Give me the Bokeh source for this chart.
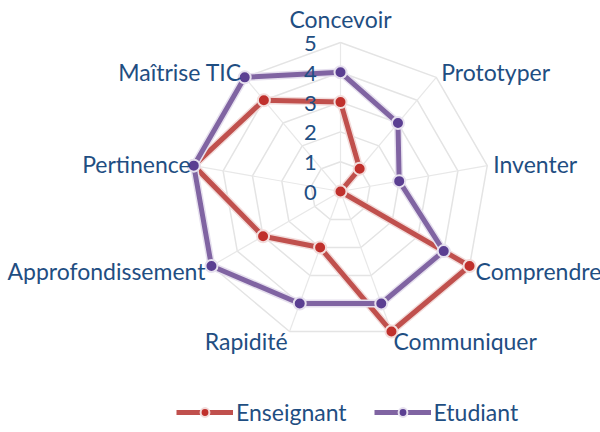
import numpy as np
from bokeh.plotting import figure
from bokeh.models import Range1d, Legend, LegendItem, ColumnDataSource
from bokeh.core.properties import value
from bokeh.embed import file_html
from bokeh.resources import INLINE

categories = ["Concevoir", "Prototyper", "Inventer", "Comprendre", "Communiquer",
              "Rapidité", "Approfondissement", "Pertinence", "Maîtrise TIC"]
enseignant = [3, 1, 0, 5, 5, 2, 3, 5, 4]
etudiant = [4, 3, 2, 4, 4, 4, 5, 5, 5]
tick_labels = ["0", "1", "2", "3", "4", "5"]
max_val = 5

UNIT = 29.8          # pixels per value unit
FONT = value("Lato")
TXT = "#1F4E82"

W, H = 600, 432
CX, CY = 340, 191   # center inside figure (px from left, from top)

p = figure(width=W, height=H, output_backend="svg", toolbar_location=None,
           x_range=Range1d(-CX, W - CX), y_range=Range1d(-(H - CY), CY),
           min_border=0, background_fill_color="white", border_fill_color="white")
p.axis.visible = False
p.grid.visible = False
p.outline_line_color = None

n = len(categories)
ang = np.arange(n) * 2 * np.pi / n


def polar(vals):
    v = np.asarray(vals, dtype=float) * UNIT
    return v * np.sin(ang), v * np.cos(ang)


# grid rings and spokes
for r in range(1, max_val + 1):
    gx, gy = polar([r] * n)
    p.line(list(gx) + [gx[0]], list(gy) + [gy[0]], line_color="#E4E4E4", line_width=1.5)
ox, oy = polar([max_val] * n)
p.multi_line([[0, x] for x in ox], [[0, y] for y in oy], line_color="#E8E8E8", line_width=1.2)

# series
series = [("Enseignant", enseignant, "#C0504D", "#C0302C", "#F2DCDB"),
          ("Etudiant", etudiant, "#8064A2", "#5B3F92", "#E6E0EE")]
items = []
for name, vals, lc, mc, halo in series:
    sx, sy = polar(vals)
    xs = list(sx) + [sx[0]]
    ys = list(sy) + [sy[0]]
    p.line(xs, ys, line_color=halo, line_width=8, line_join="round")
    ln = p.line(xs, ys, line_color=lc, line_width=5, line_join="round")
    sc = p.scatter(list(sx), list(sy), marker="circle", size=12, fill_color=mc,
                   line_color=halo, line_width=2)
    items.append(LegendItem(label=name, renderers=[ln, sc]))

# category labels
offsets = {"Concevoir": (0, 24, "center"), "Prototyper": (5, 5, "left"),
           "Inventer": (6, 2, "left"), "Comprendre": (6, -5, "left"),
           "Communiquer": (2, -9, "left"), "Rapidité": (-2, -9, "right"),
           "Approfondissement": (-6, -5, "right"), "Pertinence": (-3, 2, "right"),
           "Maîtrise TIC": (-3, 5, "right")}
lx, ly, la = [], [], []
for c, x, y in zip(categories, ox, oy):
    dx, dy, al = offsets[c]
    lx.append(x + dx)
    ly.append(y + dy)
    la.append(al)
src = ColumnDataSource(dict(x=lx, y=ly, t=categories, a=la))
p.text("x", "y", text="t", text_align="a", text_baseline="middle", source=src,
       text_font=FONT, text_font_size="23px", text_color=TXT)

# radial tick labels
p.text([-30] * len(tick_labels), [int(t) * UNIT - 1 for t in tick_labels], text=tick_labels,
       text_align="center", text_baseline="middle", text_font=FONT,
       text_font_size="22px", text_color=TXT)

legend = Legend(items=items, orientation="horizontal", location=(176, 6),
                glyph_width=57, glyph_height=22, label_standoff=3, spacing=27,
                padding=0, margin=0, border_line_color=None, background_fill_alpha=0,
                label_text_font="Lato", label_text_font_size="23px", label_text_color=TXT)
p.add_layout(legend, "center")

open("out.html", "w").write(file_html(p, INLINE))
